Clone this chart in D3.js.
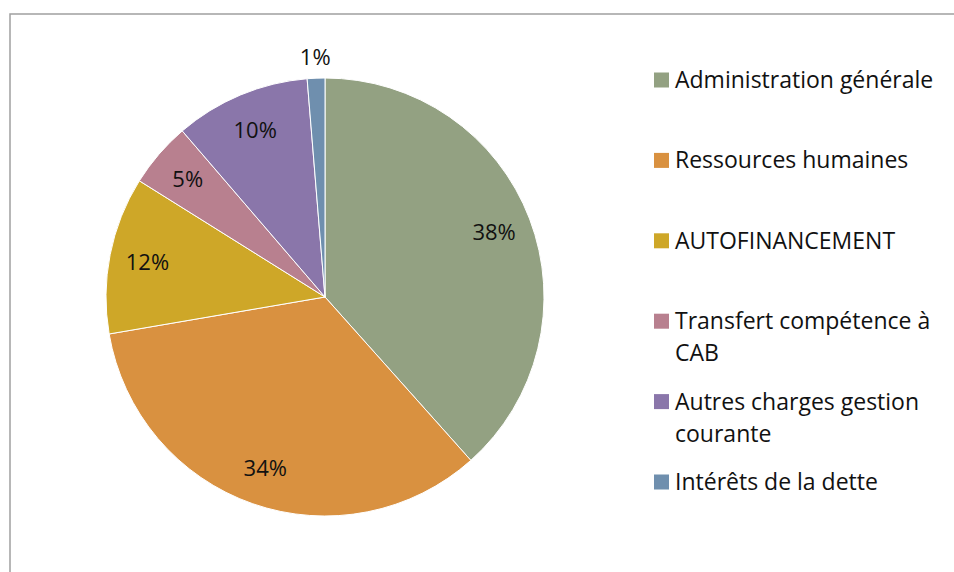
<!DOCTYPE html>
<html>
<head>
<meta charset="utf-8">
<script src="https://cdn.jsdelivr.net/npm/d3@7"></script>
<style>
  html, body { margin: 0; padding: 0; background: #fff; }
  svg { display: block; }
</style>
</head>
<body>
<svg id="chart" width="954" height="572"></svg>
<script>
// données
const categories = [
  "Administration générale",
  "Ressources humaines",
  "AUTOFINANCEMENT",
  "Transfert compétence à CAB",
  "Autres charges gestion courante",
  "Intérêts de la dette"
];
const values = [38.4, 33.9, 11.6, 4.8, 10.0, 1.3];
const pctLabels = ["38%", "34%", "12%", "5%", "10%", "1%"];
const colors = ["#93A182", "#D99140", "#CEA728", "#B8808F", "#8A76AA", "#6F8FAE"];

const svg = d3.select("#chart");
const font = "'Open Sans', 'Noto Sans', sans-serif";

// cadre du graphique (bords haut et gauche visibles)
svg.append("rect")
  .attr("x", 10).attr("y", 14)
  .attr("width", 1000).attr("height", 600)
  .attr("fill", "none")
  .attr("stroke", "#A0A0A0")
  .attr("stroke-width", 1.5);

const cx = 325, cy = 297, R = 219;

const data = categories.map((c, i) => ({ name: c, value: values[i], label: pctLabels[i], color: colors[i] }));

const pie = d3.pie().sort(null).value(d => d.value);
const arcs = pie(data);

const arc = d3.arc().innerRadius(0).outerRadius(R);
const labelArc = d3.arc().innerRadius(181).outerRadius(181);
const outerLabelArc = d3.arc().innerRadius(240).outerRadius(240);

const g = svg.append("g").attr("transform", `translate(${cx},${cy})`);

g.selectAll("path")
  .data(arcs)
  .join("path")
  .attr("d", arc)
  .attr("fill", d => d.data.color)
  .attr("stroke", "#fff")
  .attr("stroke-width", 1);

// étiquettes de pourcentage (petite part placée à l'extérieur)
g.selectAll("text.pct")
  .data(arcs)
  .join("text")
  .attr("class", "pct")
  .attr("transform", d => {
    const small = d.endAngle - d.startAngle < 0.15;
    const [x, y] = (small ? outerLabelArc : labelArc).centroid(d);
    return `translate(${x},${y})`;
  })
  .attr("text-anchor", "middle")
  .attr("dy", "0.35em")
  .style("font-family", font)
  .style("font-size", "22px")
  .attr("fill", "#111")
  .text(d => d.data.label);

// légende
const legendY = d3.scalePoint().domain(categories).range([80, 482]);
const maxW = 272;

const leg = svg.append("g");
const items = leg.selectAll("g")
  .data(data)
  .join("g")
  .attr("transform", d => `translate(654,${legendY(d.name)})`);

items.append("rect")
  .attr("x", 0).attr("y", -7.5)
  .attr("width", 15).attr("height", 15)
  .attr("fill", d => d.color);

items.each(function(d) {
  const t = d3.select(this).append("text")
    .attr("x", 21)
    .attr("y", 0)
    .style("font-family", font)
    .style("font-size", "23px")
    .attr("fill", "#111");
  // retour à la ligne selon la largeur disponible
  const words = d.name.split(" ");
  let line = [];
  let tspan = t.append("tspan").attr("x", 21).attr("dy", "0.35em");
  words.forEach(w => {
    line.push(w);
    tspan.text(line.join(" "));
    if (tspan.node().getComputedTextLength() > maxW && line.length > 1) {
      line.pop();
      tspan.text(line.join(" "));
      line = [w];
      tspan = t.append("tspan").attr("x", 21).attr("dy", "32px").text(w);
    }
  });
});
</script>
</body>
</html>
